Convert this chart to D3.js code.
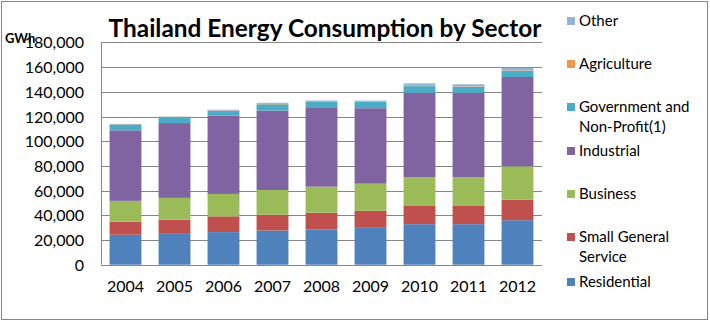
<!DOCTYPE html>
<html>
<head>
<meta charset="utf-8">
<script src="https://cdn.jsdelivr.net/npm/d3@7"></script>
<style>
  body { margin: 0; background: #fff; }
  text { font-family: Lato, "Open Sans", sans-serif; fill: #000; }
</style>
</head>
<body>
<svg id="chart" width="710" height="322"></svg>
<script>
// data (GWh)
const years = ["2004", "2005", "2006", "2007", "2008", "2009", "2010", "2011", "2012"];
const sectors = ["Residential", "Small General Service", "Business", "Industrial",
                 "Government and Non-Profit(1)", "Agriculture", "Other"];
const residential = [24300, 25600, 26400, 27700, 28500, 30400, 32800, 32800, 36000];
const smallGeneral = [10600, 10900, 12800, 12800, 13600, 13300, 15200, 15200, 16500];
const business = [16800, 17600, 18100, 20000, 21100, 21900, 22900, 22900, 27200];
const industrial = [57100, 60600, 63500, 64300, 64300, 61100, 68300, 68300, 72300];
const government = [4800, 4800, 3700, 5100, 4500, 5400, 5400, 4900, 5100];
const agriculture = [200, 200, 300, 300, 600, 300, 300, 300, 300];
const other = [200, 300, 700, 900, 400, 500, 1900, 1700, 2000];
const yTicks = [0, 20000, 40000, 60000, 80000, 100000, 120000, 140000, 160000, 180000];

const colors = ["#4F81BD", "#C0504D", "#9BBB59", "#8064A2", "#4BACC6", "#F79646", "#95B3D7"];
const seriesVals = [residential, smallGeneral, business, industrial, government, agriculture, other];

const rows = years.map(function(yr, i) {
    var r = { year: yr };
    sectors.forEach(function(s, j) { r[s] = seriesVals[j][i]; });
    return r;
});

const svg = d3.select("#chart");

svg.append("rect")
    .attr("x", 1.5).attr("y", 1.5)
    .attr("width", 706).attr("height", 318)
    .attr("fill", "#fff")
    .attr("stroke", "#868686");

const plotL = 101, plotR = 542, plotT = 42.4, plotB = 264.7;

const x = d3.scaleBand().domain(years).range([plotL, plotR]).paddingInner(0.35).paddingOuter(0.175);
const y = d3.scaleLinear().domain([0, 180000]).range([plotB, plotT]);

// gridlines
svg.append("g")
    .selectAll("line")
    .data(yTicks)
    .enter()
    .append("line")
    .attr("x1", plotL).attr("x2", plotR)
    .attr("y1", function(d) { return Math.round(y(d)) + 0.5; })
    .attr("y2", function(d) { return Math.round(y(d)) + 0.5; })
    .attr("stroke", "#868686");

const stack = d3.stack().keys(sectors)(rows);

svg.append("g")
    .selectAll("g")
    .data(stack)
    .enter()
    .append("g")
    .attr("fill", function(d, i) { return colors[i]; })
    .selectAll("rect")
    .data(function(d) { return d; })
    .enter()
    .append("rect")
    .attr("x", function(d) { return x(d.data.year); })
    .attr("width", x.bandwidth())
    .attr("y", function(d) { return y(d[1]); })
    .attr("height", function(d) { return y(d[0]) - y(d[1]); });

// axes lines
svg.append("line")
    .attr("x1", plotL + 0.5).attr("x2", plotL + 0.5)
    .attr("y1", plotT).attr("y2", plotB)
    .attr("stroke", "#868686");
svg.append("line")
    .attr("x1", plotL).attr("x2", plotR)
    .attr("y1", Math.round(plotB) + 0.5).attr("y2", Math.round(plotB) + 0.5)
    .attr("stroke", "#868686");

const fmt = d3.format(",");

svg.append("g")
    .selectAll("text")
    .data(yTicks)
    .enter()
    .append("text")
    .attr("x", 84)
    .attr("y", function(d) { return y(d) + 6; })
    .attr("text-anchor", "end")
    .style("font-size", "16px")
    .text(function(d) { return fmt(d); });

svg.append("g")
    .selectAll("text")
    .data(years)
    .enter()
    .append("text")
    .attr("x", function(d) { return x(d) + x.bandwidth() / 2; })
    .attr("y", 292)
    .attr("text-anchor", "middle")
    .style("font-size", "16px")
    .text(function(d) { return d; });

// sits over the top tick label, as in the original
svg.append("text")
    .attr("x", 5)
    .attr("y", 43)
    .style("font-size", "13px")
    .style("font-weight", "bold")
    .text("GWh");

svg.append("text")
    .attr("x", 325)
    .attr("y", 37)
    .attr("text-anchor", "middle")
    .style("font-size", "24.4px")
    .style("font-weight", "bold")
    .text("Thailand Energy Consumption by Sector");

// legend, top entry is the last series
const legendItems = [
    { lines: ["Other"], color: colors[6], cy: 21 },
    { lines: ["Agriculture"], color: colors[5], cy: 64 },
    { lines: ["Government and", "Non-Profit(1)"], color: colors[4], cy: 107 },
    { lines: ["Industrial"], color: colors[3], cy: 151 },
    { lines: ["Business"], color: colors[2], cy: 194 },
    { lines: ["Small General", "Service"], color: colors[1], cy: 237 },
    { lines: ["Residential"], color: colors[0], cy: 282 }
];

var legend = svg.append("g")
    .selectAll("g.legend")
    .data(legendItems)
    .enter()
    .append("g")
    .attr("class", "legend");

legend.append("rect")
    .attr("x", 567)
    .attr("y", function(d) { return d.cy - 4; })
    .attr("width", 8)
    .attr("height", 8)
    .attr("fill", function(d) { return d.color; });

legend.append("text")
    .attr("x", 579)
    .attr("y", function(d) { return d.cy + 5; })
    .style("font-size", "15px")
    .selectAll("tspan")
    .data(function(d) { return d.lines; })
    .enter()
    .append("tspan")
    .attr("x", 579)
    .attr("dy", function(d, i) { return i === 0 ? 0 : 20; })
    .text(function(d) { return d; });
</script>
</body>
</html>
